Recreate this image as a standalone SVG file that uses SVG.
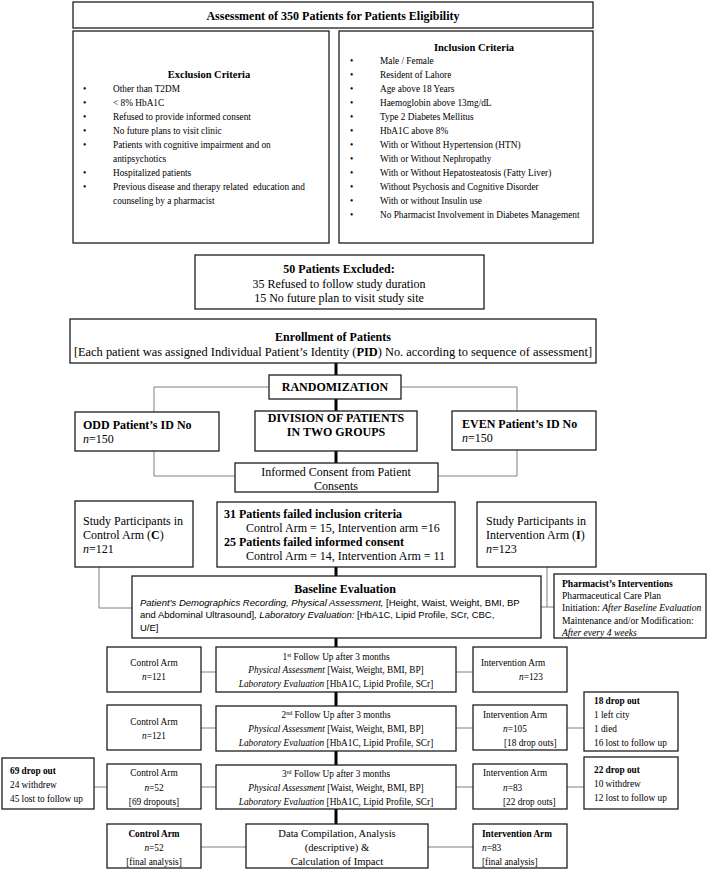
<svg xmlns="http://www.w3.org/2000/svg" width="709" height="871" viewBox="0 0 709 871">
<style>
.b{fill:#fff;stroke:#1e1e1e;stroke-width:1.3}
.c{fill:none;stroke:#808080;stroke-width:1}
.k{fill:none;stroke:#000;stroke-width:3}
text{font-family:"Liberation Serif","Times New Roman",serif;fill:#000;font-size:9.3px}
.a{font-family:"Liberation Sans",Arial,sans-serif;font-size:9.5px}
.m12{font-size:12px}
.e{font-size:12.4px}
.p{font-size:9.6px}
.h{font-size:10.5px;font-weight:bold}
.bd{font-weight:bold}
.i{font-style:italic}
.mid{text-anchor:middle}
.d{font-size:10.6px}
</style>
<rect width="709" height="871" fill="#fff"/>
<g id="connectors">
<path class="k" d="M336 363V375M336 399V411M336 451V463M336 567V576M336 638V647M336 692V706M336 751V765M336 809V824"/>
<path class="c" d="M269 387H154V412M401 387H517V411M154 451V476H235M517 450V476H438M99 567V608H132M547 567V607M541 607H554"/>
<path class="c" d="M201 672H216M456 672H473M201 728H216M456 728H473M567 728H584M94 787H107M201 787H216M456 787H473M567 787H584M201 847H246M428 847H473"/>
</g>
<g id="title"><rect class="b" x="73" y="2" width="520" height="26"/><text class="m12 bd mid" x="333" y="19.5">Assessment of 350 Patients for Patients Eligibility</text></g>
<g id="exclusion"><rect class="b" x="73" y="31" width="256" height="212"/>
<text class="h mid" x="209" y="77.5">Exclusion Criteria</text>
<text x="83" y="92">•</text><text x="113" y="92">Other than T2DM</text>
<text x="83" y="106">•</text><text x="113" y="106">&lt; 8% HbA1C</text>
<text x="83" y="120">•</text><text x="113" y="120">Refused to provide informed consent</text>
<text x="83" y="134">•</text><text x="113" y="134">No future plans to visit clinic</text>
<text x="83" y="148">•</text><text x="113" y="148">Patients with cognitive impairment and on</text>
<text x="113" y="162">antipsychotics</text>
<text x="83" y="176">•</text><text x="113" y="176">Hospitalized patients</text>
<text x="83" y="190">•</text><text x="113" y="190" xml:space="preserve">Previous disease and therapy related  education and</text>
<text x="113" y="204">counseling by a pharmacist</text>
</g>
<g id="inclusion"><rect class="b" x="339" y="31" width="254" height="212"/>
<text class="h mid" x="474" y="50.5">Inclusion Criteria</text>
<text x="350" y="64">•</text><text x="380" y="64">Male / Female</text>
<text x="350" y="78">•</text><text x="380" y="78">Resident of Lahore</text>
<text x="350" y="92">•</text><text x="380" y="92">Age above 18 Years</text>
<text x="350" y="106">•</text><text x="380" y="106">Haemoglobin above 13mg/dL</text>
<text x="350" y="120">•</text><text x="380" y="120">Type 2 Diabetes Mellitus</text>
<text x="350" y="134">•</text><text x="380" y="134">HbA1C above 8%</text>
<text x="350" y="148">•</text><text x="380" y="148">With or Without Hypertension (HTN)</text>
<text x="350" y="162">•</text><text x="380" y="162">With or Without Nephropathy</text>
<text x="350" y="176">•</text><text x="380" y="176">With or Without Hepatosteatosis (Fatty Liver)</text>
<text x="350" y="190">•</text><text x="380" y="190">Without Psychosis and Cognitive Disorder</text>
<text x="350" y="204">•</text><text x="380" y="204">With or without Insulin use</text>
<text x="350" y="218">•</text><text x="380" y="218">No Pharmacist Involvement in Diabetes Management</text>
</g>
<g id="excluded"><rect class="b" x="195" y="255" width="289" height="54"/>
<text class="m12 bd mid" x="339" y="273">50 Patients Excluded:</text>
<text class="m12 mid" x="339" y="288">35 Refused to follow study duration</text>
<text class="m12 mid" x="339" y="302">15 No future plan to visit study site</text>
</g>
<g id="enrollment"><rect class="b" x="70" y="319" width="526" height="44"/>
<text class="m12 bd mid" x="333" y="341">Enrollment of Patients</text>
<text class="e mid" x="333" y="356">[Each patient was assigned Individual Patient’s Identity (<tspan class="bd">PID</tspan>) No. according to sequence of assessment]</text>
</g>
<g id="randomization"><rect class="b" x="269" y="375" width="132" height="24"/><text class="m12 bd mid" x="335" y="391">RANDOMIZATION</text></g>
<g id="odd"><rect class="b" x="75" y="412" width="144" height="39"/><text class="m12 bd" x="83" y="429">ODD Patient’s ID No</text><text class="m12" x="83" y="443"><tspan class="i">n</tspan>=150</text></g>
<g id="division"><rect class="b" x="255" y="411" width="162" height="40"/><text class="m12 bd mid" x="336" y="422">DIVISION OF PATIENTS</text><text class="m12 bd mid" x="336" y="436">IN TWO GROUPS</text></g>
<g id="even"><rect class="b" x="452" y="411" width="144" height="39"/><text class="m12 bd" x="462" y="428">EVEN Patient’s ID No</text><text class="m12" x="462" y="442"><tspan class="i">n</tspan>=150</text></g>
<g id="consent"><rect class="b" x="235" y="463" width="203" height="29"/><text class="m12 mid" x="336" y="476">Informed Consent from Patient</text><text class="m12 mid" x="336" y="490">Consents</text></g>
<g id="control-participants"><rect class="b" x="75" y="501" width="118" height="66"/>
<text class="m12" x="83" y="525">Study Participants in</text><text class="m12" x="83" y="539">Control Arm (<tspan class="bd">C</tspan>)</text><text class="m12" x="83" y="553"><tspan class="i">n</tspan>=121</text></g>
<g id="failed"><rect class="b" x="217" y="502" width="238" height="65"/>
<text class="m12 bd" x="224" y="518">31 Patients failed inclusion criteria</text>
<text class="m12" x="246" y="532">Control Arm = 15, Intervention arm =16</text>
<text class="m12 bd" x="224" y="546">25 Patients failed informed consent</text>
<text class="m12" x="246" y="560">Control Arm = 14, Intervention Arm = 11</text>
</g>
<g id="intervention-participants"><rect class="b" x="477" y="502" width="119" height="65"/>
<text class="m12" x="486" y="525">Study Participants in</text><text class="m12" x="486" y="539">Intervention Arm (<tspan class="bd">I</tspan>)</text><text class="m12" x="486" y="553"><tspan class="i">n</tspan>=123</text></g>
<g id="baseline"><rect class="b" x="132" y="576" width="409" height="62"/>
<text class="m12 bd mid" x="345" y="593">Baseline Evaluation</text>
<text class="a" x="140" y="605.5"><tspan class="i">Patient’s Demographics Recording, Physical Assessment,</tspan> [Height, Waist, Weight, BMI, BP</text>
<text class="a" x="140" y="618">and Abdominal Ultrasound], <tspan class="i">Laboratory Evaluation:</tspan> [HbA1C, Lipid Profile, SCr, CBC,</text>
<text class="a" x="140" y="631">U/E]</text>
</g>
<g id="pharmacist"><rect class="b" x="554" y="574" width="152" height="64"/>
<text class="p bd" x="562" y="587">Pharmacist’s Interventions</text>
<text class="p" x="562" y="599">Pharmaceutical Care Plan</text>
<text class="p" x="562" y="611">Initiation: <tspan class="i">After Baseline Evaluation</tspan></text>
<text class="p" x="562" y="624">Maintenance and/or Modification:</text>
<text class="p i" x="562" y="636">After every 4 weeks</text>
</g>
<g id="fu1-control"><rect class="b" x="107" y="647" width="94" height="45"/><text class="mid" x="154" y="666">Control Arm</text><text class="mid" x="154" y="680"><tspan class="i">n</tspan>=121</text></g>
<g id="fu1"><rect class="b" x="216" y="647" width="240" height="45"/>
<text class="mid" x="336" y="659.5">1<tspan font-size="6" dy="-3">st</tspan><tspan dy="3"> Follow Up after 3 months</tspan></text>
<text class="mid" x="336" y="673"><tspan class="i">Physical Assessment</tspan> [Waist, Weight, BMI, BP]</text>
<text class="mid" x="336" y="687"><tspan class="i">Laboratory Evaluation</tspan> [HbA1C, Lipid Profile, SCr]</text>
</g>
<g id="fu1-intervention"><rect class="b" x="473" y="647" width="94" height="45"/><text x="481" y="666">Intervention Arm</text><text x="519" y="680"><tspan class="i">n</tspan>=123</text></g>
<g id="fu2-control"><rect class="b" x="107" y="705" width="94" height="45"/><text class="mid" x="154" y="725">Control Arm</text><text class="mid" x="154" y="739"><tspan class="i">n</tspan>=121</text></g>
<g id="fu2"><rect class="b" x="216" y="706" width="240" height="45"/>
<text class="mid" x="336" y="718">2<tspan font-size="6" dy="-3">nd</tspan><tspan dy="3"> Follow Up after 3 months</tspan></text>
<text class="mid" x="336" y="732"><tspan class="i">Physical Assessment</tspan> [Waist, Weight, BMI, BP]</text>
<text class="mid" x="336" y="746"><tspan class="i">Laboratory Evaluation</tspan> [HbA1C, Lipid Profile, SCr]</text>
</g>
<g id="fu2-intervention"><rect class="b" x="473" y="705" width="94" height="45"/><text x="483" y="718">Intervention Arm</text><text x="503" y="732"><tspan class="i">n</tspan>=105</text><text x="504" y="746">[18 drop outs]</text></g>
<g id="drop18"><rect class="b" x="584" y="692" width="94" height="59"/><text class="bd" x="594" y="704">18 drop out</text><text x="594" y="718">1 left city</text><text x="594" y="732">1 died</text><text x="594" y="746">16 lost to follow up</text></g>
<g id="drop69"><rect class="b" x="2" y="758" width="92" height="51"/><text class="bd" x="10" y="774">69 drop out</text><text x="10" y="788">24 withdrew</text><text x="10" y="802">45 lost to follow up</text></g>
<g id="fu3-control"><rect class="b" x="107" y="764" width="94" height="45"/><text class="mid" x="154" y="776">Control Arm</text><text class="mid" x="154" y="790.5"><tspan class="i">n</tspan>=52</text><text class="mid" x="154" y="805">[69 dropouts]</text></g>
<g id="fu3"><rect class="b" x="216" y="765" width="240" height="44"/>
<text class="mid" x="336" y="777">3<tspan font-size="6" dy="-3">rd</tspan><tspan dy="3"> Follow Up after 3 months</tspan></text>
<text class="mid" x="336" y="791"><tspan class="i">Physical Assessment</tspan> [Waist, Weight, BMI, BP]</text>
<text class="mid" x="336" y="805"><tspan class="i">Laboratory Evaluation</tspan> [HbA1C, Lipid Profile, SCr]</text>
</g>
<g id="fu3-intervention"><rect class="b" x="473" y="764" width="94" height="45"/><text x="483" y="776">Intervention Arm</text><text x="503" y="790.5"><tspan class="i">n</tspan>=83</text><text x="503" y="805">[22 drop outs]</text></g>
<g id="drop22"><rect class="b" x="584" y="757" width="94" height="52"/><text class="bd" x="594" y="773">22 drop out</text><text x="594" y="787">10 withdrew</text><text x="594" y="801">12 lost to follow up</text></g>
<g id="final-control"><rect class="b" x="107" y="824" width="94" height="44"/><text class="bd mid" x="154" y="837">Control Arm</text><text class="mid" x="154" y="851"><tspan class="i">n</tspan>=52</text><text class="mid" x="154" y="865">[final analysis]</text></g>
<g id="analysis"><rect class="b" x="246" y="824" width="182" height="44"/>
<text class="d mid" x="337" y="836.5">Data Compilation, Analysis</text>
<text class="d mid" x="337" y="850.5">(descriptive) &amp;</text>
<text class="d mid" x="337" y="864.5">Calculation of Impact</text>
</g>
<g id="final-intervention"><rect class="b" x="473" y="824" width="94" height="44"/><text class="bd" x="482" y="837">Intervention Arm</text><text x="482" y="851"><tspan class="i">n</tspan>=83</text><text x="482" y="865">[final analysis]</text></g>
</svg>
